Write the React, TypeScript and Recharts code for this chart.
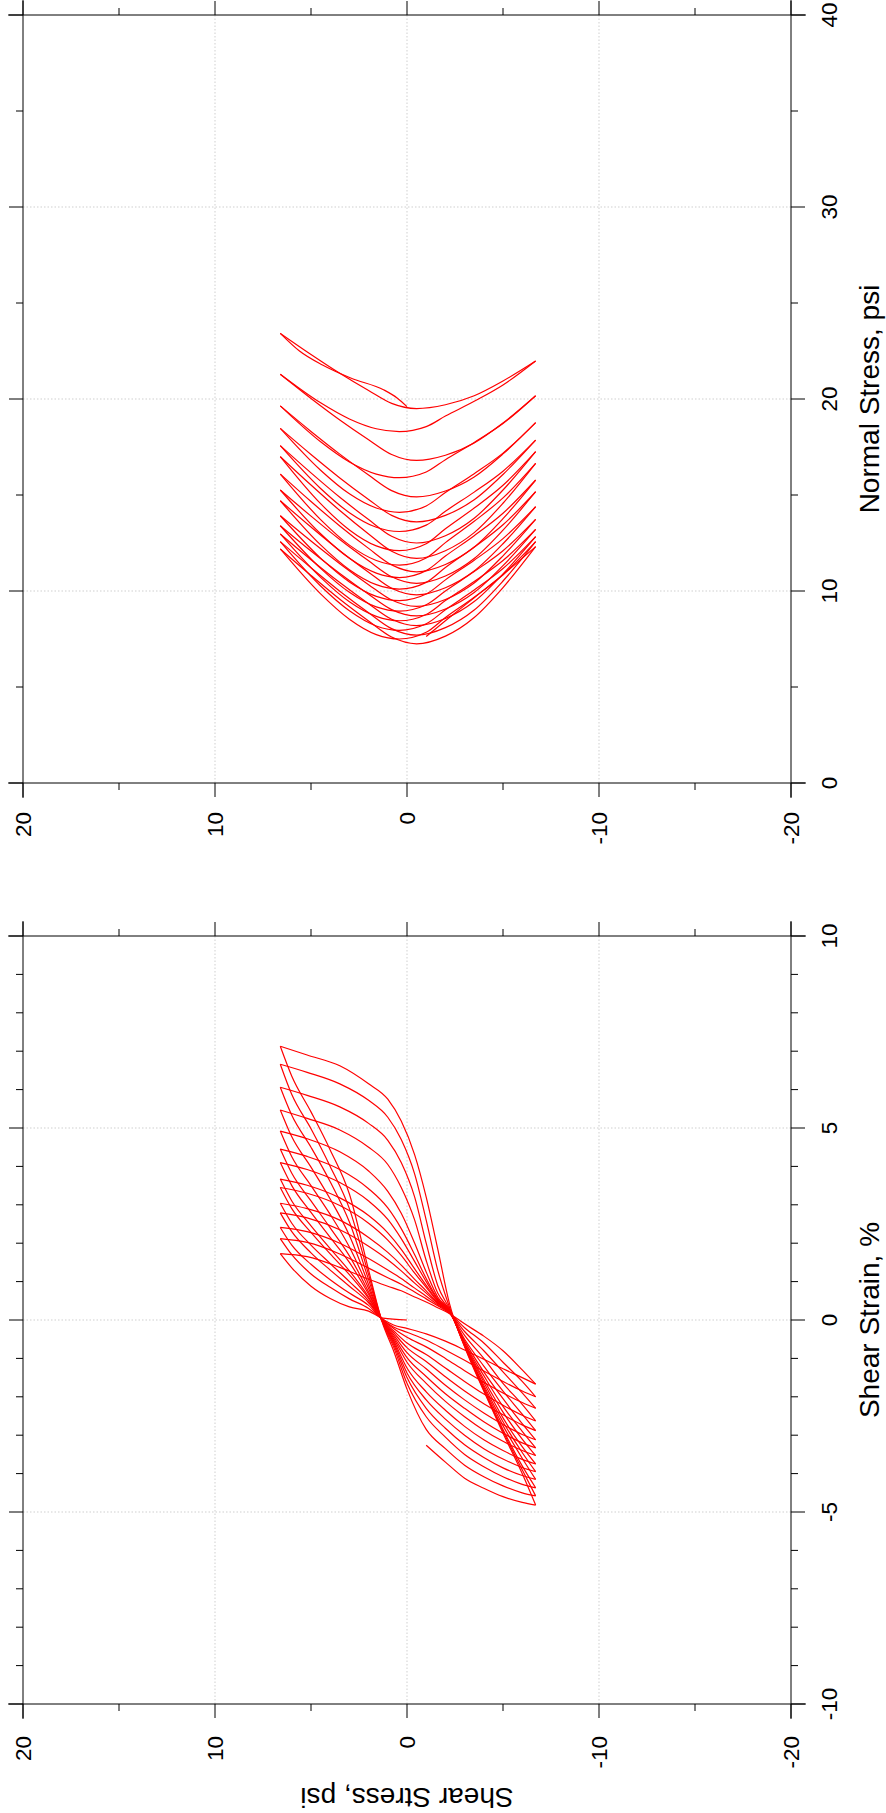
import React from 'react'
import { LineChart, Line, XAxis, YAxis, ReferenceLine } from 'recharts'

// ---- axis ticks ----
const STRAIN_TICKS = [-10, -9, -8, -7, -6, -5, -4, -3, -2, -1, 0, 1, 2, 3, 4, 5, 6, 7, 8, 9, 10]
const SHEAR_TICKS = [-20, -15, -10, -5, 0, 5, 10, 15, 20]
const NORMAL_TICKS = [0, 5, 10, 15, 20, 25, 30, 35, 40]
const STRAIN_GRID = [-5, 0, 5]
const SHEAR_GRID = [-10, 0, 10]
const NORMAL_GRID = [10, 20, 30]

// ---- shear strain vs shear stress, read off each branch at fixed stress levels ----
// first loading from rest
const START_STRESS = [0, 1.25, 2, 3, 4, 5, 6, 6.6]
const START_STRAIN = [0, 0.05, 0.23, 0.34, 0.56, 0.88, 1.36, 1.73]

// unloading: + peak -> - peak, one row per cycle
const UNLOAD_STRESS = [6.6, 5.2, 3.5, 2, 1, 0.3, -0.4, -1.0, -1.6, -2.2, -3, -4, -5, -6, -6.7]
const UNLOAD_STRAIN = [
  [1.73, 1.65, 1.37, 1.06, 0.88, 0.76, 0.6, 0.47, 0.32, 0.17, -0.1, -0.42, -0.8, -1.3, -1.67],
  [2.12, 2.02, 1.72, 1.35, 1.1, 0.93, 0.73, 0.55, 0.37, 0.18, -0.2, -0.6, -1.1, -1.6, -2.0],
  [2.41, 2.3, 2.0, 1.6, 1.3, 1.08, 0.83, 0.62, 0.4, 0.19, -0.3, -0.8, -1.35, -1.9, -2.3],
  [2.79, 2.66, 2.35, 1.92, 1.57, 1.28, 0.96, 0.7, 0.43, 0.2, -0.4, -1.0, -1.65, -2.2, -2.63],
  [3.04, 2.9, 2.6, 2.15, 1.76, 1.43, 1.06, 0.76, 0.45, 0.2, -0.5, -1.2, -1.85, -2.45, -2.88],
  [3.45, 3.3, 2.98, 2.52, 2.08, 1.68, 1.22, 0.85, 0.48, 0.21, -0.55, -1.35, -2.05, -2.7, -3.12],
  [3.67, 3.51, 3.18, 2.72, 2.27, 1.84, 1.33, 0.9, 0.5, 0.22, -0.6, -1.45, -2.25, -2.9, -3.33],
  [4.1, 3.92, 3.58, 3.1, 2.62, 2.12, 1.52, 1.0, 0.53, 0.23, -0.62, -1.55, -2.4, -3.1, -3.53],
  [4.45, 4.26, 3.92, 3.42, 2.92, 2.38, 1.7, 1.08, 0.55, 0.24, -0.64, -1.62, -2.55, -3.3, -3.75],
  [4.92, 4.72, 4.38, 3.88, 3.35, 2.78, 2.0, 1.25, 0.6, 0.25, -0.65, -1.7, -2.65, -3.45, -3.95],
  [5.47, 5.25, 4.95, 4.5, 4.05, 3.45, 2.6, 1.55, 0.7, 0.27, -0.66, -1.75, -2.75, -3.6, -4.15],
  [6.06, 5.85, 5.55, 5.12, 4.68, 4.1, 3.2, 2.0, 0.9, 0.3, -0.67, -1.8, -2.85, -3.8, -4.37],
  [6.66, 6.45, 6.15, 5.72, 5.28, 4.7, 3.8, 2.6, 1.3, 0.35, -0.68, -1.83, -2.9, -3.9, -4.58],
  [7.13, 6.9, 6.62, 6.15, 5.75, 5.18, 4.3, 3.2, 1.85, 0.45, -0.7, -1.85, -2.95, -4.0, -4.82],
]

// reloading: - peak -> next + peak (last one stops mid-branch)
const RELOAD_STRESS = [-6.7, -6, -5, -4, -3, -2, -1, 0, 0.7, 1.3, 2, 3, 4, 5, 6, 6.6]
const RELOAD_STRAIN = [
  [-1.67, -1.5, -1.27, -1.02, -0.78, -0.55, -0.36, -0.22, -0.13, 0.03, 0.3, 0.55, 0.85, 1.2, 1.7, 2.12],
  [-2.0, -1.85, -1.6, -1.33, -1.05, -0.78, -0.52, -0.32, -0.18, 0.02, 0.38, 0.7, 1.05, 1.45, 1.95, 2.41],
  [-2.3, -2.15, -1.9, -1.62, -1.32, -1.0, -0.7, -0.45, -0.22, 0.02, 0.45, 0.88, 1.3, 1.75, 2.3, 2.79],
  [-2.63, -2.48, -2.22, -1.93, -1.6, -1.25, -0.9, -0.6, -0.28, 0.01, 0.5, 1.0, 1.47, 1.95, 2.52, 3.04],
  [-2.88, -2.73, -2.47, -2.18, -1.85, -1.48, -1.08, -0.72, -0.33, 0.01, 0.56, 1.18, 1.72, 2.28, 2.9, 3.45],
  [-3.12, -2.98, -2.72, -2.42, -2.08, -1.7, -1.27, -0.85, -0.38, 0, 0.6, 1.28, 1.86, 2.45, 3.1, 3.67],
  [-3.33, -3.2, -2.95, -2.65, -2.3, -1.92, -1.47, -0.98, -0.43, 0, 0.67, 1.5, 2.15, 2.8, 3.5, 4.1],
  [-3.53, -3.4, -3.16, -2.87, -2.52, -2.12, -1.65, -1.1, -0.48, -0.01, 0.73, 1.67, 2.4, 3.1, 3.82, 4.45],
  [-3.75, -3.63, -3.4, -3.12, -2.77, -2.35, -1.87, -1.25, -0.53, -0.01, 0.82, 1.9, 2.75, 3.5, 4.25, 4.92],
  [-3.95, -3.84, -3.62, -3.35, -3.0, -2.58, -2.08, -1.38, -0.58, -0.02, 0.92, 2.2, 3.15, 3.98, 4.77, 5.47],
  [-4.15, -4.05, -3.85, -3.58, -3.25, -2.82, -2.3, -1.5, -0.63, -0.02, 1.05, 2.55, 3.6, 4.5, 5.33, 6.06],
  [-4.37, -4.28, -4.08, -3.82, -3.5, -3.05, -2.52, -1.65, -0.7, -0.03, 1.18, 2.9, 4.0, 4.98, 5.87, 6.66],
  [-4.58, -4.5, -4.32, -4.08, -3.78, -3.35, -2.85, -1.8, -0.8, -0.04, 1.3, 3.28, 4.43, 5.42, 6.35, 7.13],
  [-4.82, -4.75, -4.6, -4.38, -4.12, -3.7, -3.26],
]

// ---- normal stress vs shear stress, read at fixed shear levels ----
const N_START_SHEAR = [0, 0.5, 1.2, 2.9, 4.4, 5.6, 6.6]
const N_START = [19.6, 20.04, 20.47, 21.08, 21.77, 22.5, 23.42]

const N_UNLOAD_SHEAR = [6.6, 5, 3.5, 2, 0.8, -0.5, -2.0, -3.5, -5, -6.7]
const N_UNLOAD = [
  [23.42, 22.32, 21.34, 20.44, 19.77, 19.5, 19.7, 20.17, 20.94, 21.98],
  [21.29, 20.03, 18.91, 17.88, 17.11, 16.8, 17.07, 17.71, 18.75, 20.17],
  [19.64, 18.31, 17.13, 16.04, 15.23, 14.9, 15.21, 15.94, 17.14, 18.77],
  [18.47, 17.11, 15.89, 14.77, 13.94, 13.6, 13.94, 14.75, 16.07, 17.86],
  [17.57, 16.15, 14.88, 13.72, 12.85, 12.5, 12.88, 13.79, 15.26, 17.26],
  [17.0, 15.52, 14.19, 12.97, 12.07, 11.7, 12.1, 13.04, 14.57, 16.65],
  [16.09, 14.66, 13.39, 12.22, 11.36, 11.0, 11.38, 12.29, 13.77, 15.78],
  [15.26, 13.9, 12.68, 11.57, 10.74, 10.4, 10.78, 11.69, 13.17, 15.17],
  [14.7, 13.33, 12.1, 10.98, 10.14, 9.8, 10.17, 11.04, 12.46, 14.39],
  [13.92, 12.6, 11.42, 10.33, 9.53, 9.2, 9.56, 10.42, 11.83, 13.73],
  [13.4, 12.08, 10.91, 9.83, 9.03, 8.7, 9.06, 9.92, 11.32, 13.21],
  [12.97, 11.63, 10.44, 9.34, 8.53, 8.2, 8.57, 9.45, 10.89, 12.83],
  [12.57, 11.21, 9.99, 8.87, 8.04, 7.7, 8.09, 9.01, 10.52, 12.57],
  [12.19, 10.81, 9.57, 8.44, 7.6, 7.25, 7.65, 8.62, 10.18, 12.31],
]

const N_RELOAD_SHEAR = [-6.7, -5, -3.5, -2, -1, 0.4, 1.6, 3, 4.5, 6.6]
const N_RELOAD = [
  [21.98, 20.73, 19.88, 19.11, 18.56, 18.3, 18.45, 18.96, 19.8, 21.29],
  [20.17, 18.72, 17.74, 16.84, 16.2, 15.9, 16.09, 16.72, 17.77, 19.64],
  [18.77, 17.18, 16.11, 15.13, 14.43, 14.1, 14.32, 15.06, 16.29, 18.47],
  [17.86, 16.24, 15.15, 14.15, 13.43, 13.1, 13.32, 14.08, 15.34, 17.57],
  [17.26, 15.51, 14.32, 13.24, 12.46, 12.1, 12.35, 13.18, 14.55, 17.0],
  [16.65, 14.85, 13.63, 12.52, 11.72, 11.35, 11.59, 12.39, 13.72, 16.09],
  [15.78, 14.05, 12.88, 11.82, 11.06, 10.7, 10.93, 11.7, 12.98, 15.26],
  [15.17, 13.45, 12.28, 11.22, 10.45, 10.1, 10.33, 11.11, 12.4, 14.7],
  [14.39, 12.73, 11.6, 10.58, 9.84, 9.5, 9.72, 10.47, 11.71, 13.92],
  [13.73, 12.1, 11.01, 10.0, 9.28, 8.95, 9.17, 9.93, 11.18, 13.4],
  [13.21, 11.59, 10.5, 9.5, 8.78, 8.45, 8.68, 9.44, 10.71, 12.97],
  [12.83, 11.17, 10.05, 9.02, 8.29, 7.95, 8.18, 8.97, 10.26, 12.57],
  [12.57, 10.85, 9.68, 8.62, 7.85, 7.5, 7.73, 8.53, 9.85, 12.19],
  [12.31, 10.85, 9.65, 8.45, 7.63],
]

const RED = '#ff0000'
const FONT = "'Liberation Sans', Arial, Helvetica, sans-serif"
const TICK_FONT = 22.5
const TITLE_FONT = 28
const MAJOR_LEN = 14
const MINOR_LEN = 7

type Pt = { x: number; y: number }

// pair the read values with the level they were read at
function branch(levels: number[], values: number[]): Pt[] {
  return values.map((v, i) => ({ x: v, y: levels[i] }))
}

const strainBranches: Pt[][] = [branch(START_STRESS, START_STRAIN)]
UNLOAD_STRAIN.forEach((row, i) => {
  strainBranches.push(branch(UNLOAD_STRESS, row))
  strainBranches.push(branch(RELOAD_STRESS, RELOAD_STRAIN[i]))
})

const normalBranches: Pt[][] = [branch(N_START_SHEAR, N_START)]
N_UNLOAD.forEach((row, i) => {
  normalBranches.push(branch(N_UNLOAD_SHEAR, row))
  normalBranches.push(branch(N_RELOAD_SHEAR, N_RELOAD[i]))
})

type Side = 'bottom' | 'top' | 'left' | 'right'

function tickRenderer(side: Side, major: number, labelGap?: number) {
  return (props: any) => {
    const { x, y, payload } = props
    const v = payload.value as number
    const isMajor = Math.abs(v % major) < 1e-9
    const len = isMajor ? MAJOR_LEN : MINOR_LEN
    let line = null
    let label = null
    if (side === 'bottom') {
      line = <line x1={x} x2={x} y1={y} y2={y + len} stroke="#000" />
      if (labelGap && isMajor)
        label = (
          <text x={x} y={y + labelGap} dy="0.36em" textAnchor="middle" fontSize={TICK_FONT} fontFamily={FONT} fill="#000">
            {v}
          </text>
        )
    } else if (side === 'top') {
      line = <line x1={x} x2={x} y1={y} y2={y - len} stroke="#000" />
    } else if (side === 'left') {
      line = <line x1={x} x2={x - len} y1={y} y2={y} stroke="#000" />
      if (labelGap && isMajor)
        label = (
          <text x={x - labelGap} y={y} dy="0.36em" textAnchor="end" fontSize={TICK_FONT} fontFamily={FONT} fill="#000">
            {v}
          </text>
        )
    } else {
      line = <line x1={x} x2={x + len} y1={y} y2={y} stroke="#000" />
    }
    return (
      <g>
        {line}
        {label}
      </g>
    )
  }
}

type PanelProps = {
  width: number
  leftWidth: number
  rightWidth: number
  xDomain: [number, number]
  xTicks: number[]
  xMajor: number
  xGrid: number[]
  xExt: number
  xTitle: string
  yTitle?: string
  leftGap: number
  branches: Pt[][]
}

function Panel(p: PanelProps) {
  const [x0, x1] = p.xDomain
  const yExt = 15 / 19.2
  const frame = { stroke: '#000', strokeWidth: 1, ifOverflow: 'visible' as const }
  const grid = { stroke: '#cfcfcf', strokeWidth: 1, strokeDasharray: '1.5 2' }
  return (
    <LineChart width={p.width} height={886} margin={{ top: 0, right: 0, bottom: 0, left: 0 }}>
      <XAxis
        xAxisId="b"
        dataKey="x"
        type="number"
        orientation="bottom"
        domain={p.xDomain}
        ticks={p.xTicks}
        interval={0}
        height={95}
        tickSize={0}
        tickMargin={0}
        tickLine={false}
        axisLine={false}
        allowDataOverflow
        tick={tickRenderer('bottom', p.xMajor, 38)}
        label={{
          value: p.xTitle,
          content: (lp: any) => {
            const vb = lp.viewBox || { x: 0, y: 791, width: 768 }
            return (
              <text x={vb.x + vb.width / 2} y={vb.y + 88} textAnchor="middle" fontSize={TITLE_FONT} fontFamily={FONT} fill="#000">
                {p.xTitle}
              </text>
            )
          },
        }}
      />
      <XAxis
        xAxisId="t"
        dataKey="x"
        type="number"
        orientation="top"
        domain={p.xDomain}
        ticks={p.xTicks}
        interval={0}
        height={23}
        tickSize={0}
        tickMargin={0}
        tickLine={false}
        axisLine={false}
        allowDataOverflow
        tick={tickRenderer('top', p.xMajor)}
      />
      <YAxis
        yAxisId="l"
        type="number"
        orientation="left"
        domain={[-20, 20]}
        ticks={SHEAR_TICKS}
        interval={0}
        width={p.leftWidth}
        tickSize={0}
        tickMargin={0}
        tickLine={false}
        axisLine={false}
        allowDataOverflow
        tick={tickRenderer('left', 10, p.leftGap)}
        label={
          p.yTitle
            ? {
                value: p.yTitle,
                content: (lp: any) => {
                  const vb = lp.viewBox || { x: 0, y: 23, height: 768 }
                  return (
                    <text
                      transform={`translate(25, ${vb.y + vb.height / 2}) rotate(-90)`}
                      textAnchor="middle"
                      fontSize={TITLE_FONT}
                      fontFamily={FONT}
                      fill="#000"
                    >
                      {p.yTitle}
                    </text>
                  )
                },
              }
            : undefined
        }
      />
      <YAxis
        yAxisId="r"
        type="number"
        orientation="right"
        domain={[-20, 20]}
        ticks={SHEAR_TICKS}
        interval={0}
        width={p.rightWidth}
        tickSize={0}
        tickMargin={0}
        tickLine={false}
        axisLine={false}
        allowDataOverflow
        tick={tickRenderer('right', 10)}
      />

      {p.xGrid.map((g) => (
        <ReferenceLine key={'gx' + g} xAxisId="b" yAxisId="l" x={g} {...grid} />
      ))}
      {SHEAR_GRID.map((g) => (
        <ReferenceLine key={'gy' + g} xAxisId="b" yAxisId="l" y={g} {...grid} />
      ))}

      {p.branches.map((pts, i) => (
        <Line
          key={i}
          xAxisId="b"
          yAxisId="l"
          data={pts}
          dataKey="y"
          type="monotoneY"
          stroke={RED}
          strokeWidth={1.2}
          dot={false}
          activeDot={false}
          isAnimationActive={false}
        />
      ))}

      <ReferenceLine xAxisId="b" yAxisId="l" segment={[{ x: x0 - p.xExt, y: 20 }, { x: x1 + p.xExt, y: 20 }]} {...frame} />
      <ReferenceLine xAxisId="b" yAxisId="l" segment={[{ x: x0 - p.xExt, y: -20 }, { x: x1 + p.xExt, y: -20 }]} {...frame} />
      <ReferenceLine xAxisId="b" yAxisId="l" segment={[{ x: x0, y: -20 - yExt }, { x: x0, y: 20 + yExt }]} {...frame} />
      <ReferenceLine xAxisId="b" yAxisId="l" segment={[{ x: x1, y: -20 - yExt }, { x: x1, y: 20 + yExt }]} {...frame} />
    </LineChart>
  )
}

export default function App() {
  return (
    <div
      style={{
        position: 'fixed',
        left: 0,
        top: 0,
        width: 886,
        height: 1813,
        overflow: 'hidden',
        background: '#fff',
        fontFamily: FONT,
      }}
    >
      {/* the figure is a landscape page turned a quarter turn counter-clockwise */}
      <div
        style={{
          position: 'absolute',
          left: 0,
          top: 0,
          width: 1813,
          height: 886,
          transformOrigin: '0 0',
          transform: 'translate(0px, 1813px) rotate(-90deg)',
        }}
      >
        <div style={{ position: 'absolute', left: 0, top: 0 }}>
          <Panel
            width={907}
            leftWidth={109}
            rightWidth={30}
            xDomain={[-10, 10]}
            xTicks={STRAIN_TICKS}
            xMajor={5}
            xGrid={STRAIN_GRID}
            xExt={15 / 38.4}
            xTitle="Shear Strain, %"
            yTitle="Shear Stress, psi"
            leftGap={32}
            branches={strainBranches}
          />
        </div>
        <div style={{ position: 'absolute', left: 907, top: 0 }}>
          <Panel
            width={906}
            leftWidth={123}
            rightWidth={15}
            xDomain={[0, 40]}
            xTicks={NORMAL_TICKS}
            xMajor={10}
            xGrid={NORMAL_GRID}
            xExt={15 / 19.2}
            xTitle="Normal Stress, psi"
            leftGap={29}
            branches={normalBranches}
          />
        </div>
      </div>
    </div>
  )
}
